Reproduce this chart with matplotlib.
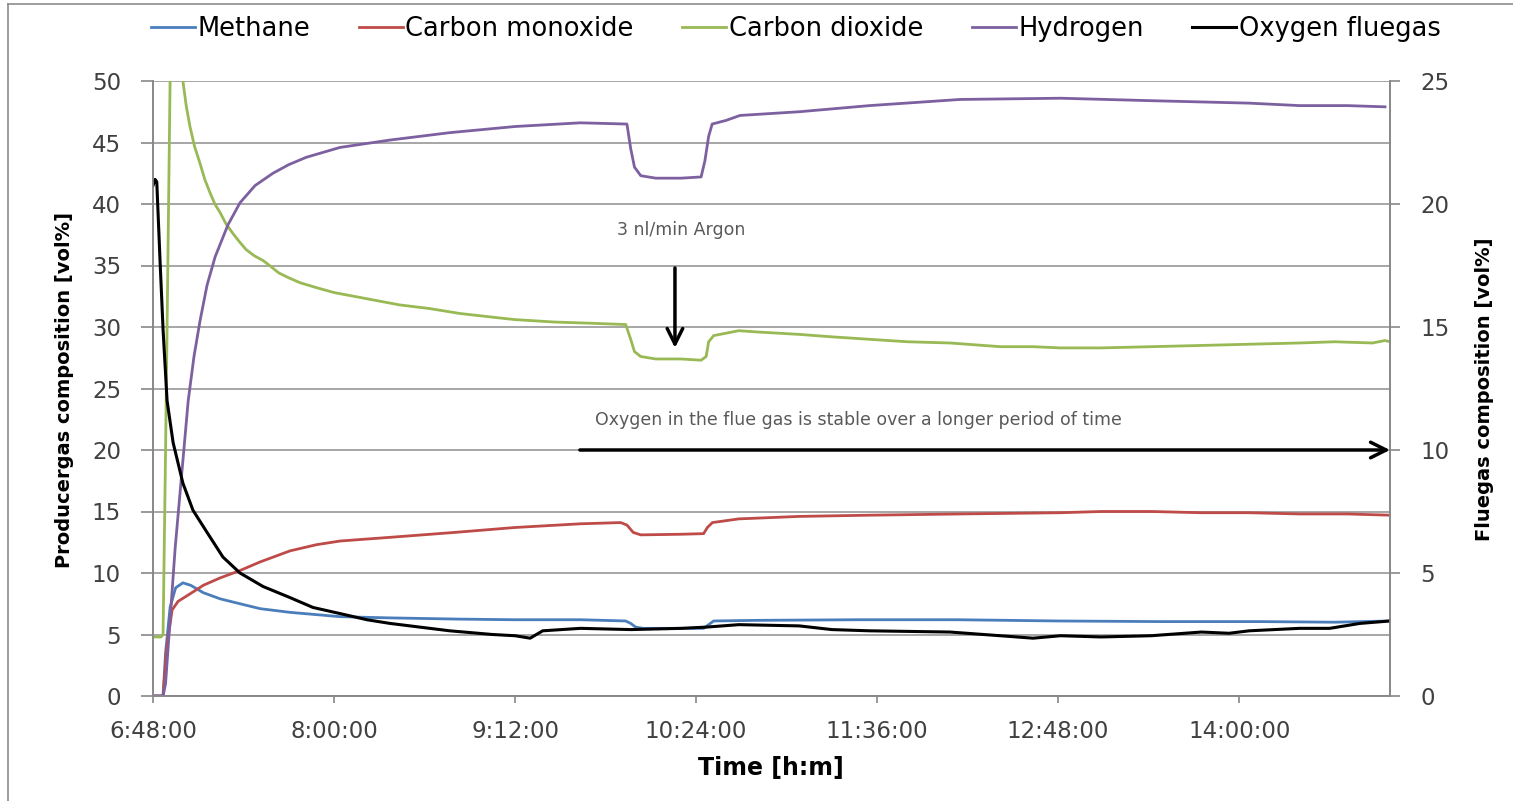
import matplotlib
matplotlib.use("Agg")
import matplotlib.pyplot as plt
from matplotlib.lines import Line2D

# time in minutes after 6:48:00
ch4_t = [0, 4.0, 5.0, 6.8, 9.0, 11.9, 15, 20, 26.7, 34.6, 42.6, 54.5, 74.4, 94.3, 122, 144, 170, 188,
         190, 192, 195, 210, 219, 221, 223, 240, 280, 320, 360, 400, 440, 470, 492]
ch4 = [0, 0, 3.5, 7.2, 8.8, 9.2, 9.0, 8.4, 7.9, 7.5, 7.1, 6.8, 6.45, 6.35, 6.25, 6.2, 6.2, 6.1,
       5.9, 5.6, 5.5, 5.5, 5.5, 5.8, 6.1, 6.15, 6.2, 6.2, 6.1, 6.05, 6.05, 6.0, 6.1]

co_t = [0, 4.0, 5.5, 7.6, 10, 14.7, 20, 26.7, 34.6, 42.6, 54.5, 65, 74.4, 94.3, 120, 144, 170, 186,
        188.5, 191, 194, 210, 219, 220.5, 222.5, 233, 257, 285, 321, 361, 377, 397, 417, 436, 456, 475, 492]
co = [0, 0, 4.0, 7.0, 7.7, 8.3, 9.0, 9.6, 10.2, 10.9, 11.8, 12.3, 12.6, 12.9, 13.3, 13.7, 14.0, 14.1,
      13.9, 13.3, 13.1, 13.15, 13.2, 13.7, 14.1, 14.4, 14.6, 14.7, 14.8, 14.9, 15.0, 15.0, 14.9, 14.9, 14.8, 14.8, 14.7]

co2_t = [0, 3.2, 4.0, 5.0, 6.8, 9.0, 11.9, 13.2, 14.7, 16.5, 18.7, 20.6, 22.7, 24.6, 26.7, 29, 31.8, 34.5, 37,
         40.2, 43.8, 47, 50, 54, 58.5, 65, 72, 85, 98,
         110, 122, 135, 144, 160, 175, 188, 190, 191.5, 194, 200, 210, 218, 220, 221, 223, 228, 233, 240,
         257, 270, 285, 300, 317, 337, 350, 361, 377, 397, 417, 436, 456, 470, 485, 490, 492]
co2 = [4.8, 4.8, 5.0, 20, 50, 60, 50, 48.0, 46.3, 44.7, 43.3, 42.0, 40.9, 40.0, 39.3, 38.4, 37.6, 36.9, 36.3,
       35.8, 35.4, 34.9, 34.4, 34.0, 33.6, 33.2, 32.8, 32.3, 31.8,
       31.5, 31.1, 30.8, 30.6, 30.4, 30.3, 30.2, 29.0, 28.0, 27.6, 27.4, 27.4, 27.3, 27.6, 28.8, 29.3, 29.5, 29.7, 29.6,
       29.4, 29.2, 29.0, 28.8, 28.7, 28.4, 28.4, 28.3, 28.3, 28.4, 28.5, 28.6, 28.7, 28.8, 28.7, 28.9, 28.8]

h2_t = [0, 4.0, 5.0, 8.8, 14, 16.3, 18.7, 21.5, 24.7, 29.8, 34.6, 40.6, 47.7, 54, 61, 74.4, 94.3, 118, 144, 170, 188.5,
        190, 191.5, 194, 200, 210, 218, 219.5, 221, 222.4, 228, 233.5, 257, 285, 321, 361, 397, 436, 456, 475, 490]
h2 = [0, 0, 1, 12, 24, 27.6, 30.5, 33.4, 35.7, 38.3, 40.1, 41.5, 42.5, 43.2, 43.8, 44.6, 45.2, 45.8, 46.3, 46.6, 46.5,
      44.5, 43.0, 42.3, 42.1, 42.1, 42.2, 43.5, 45.5, 46.5, 46.8, 47.2, 47.5, 48.0, 48.5, 48.6, 48.4, 48.2, 48.0, 48.0, 47.9]

o2_t = [0, 0.8, 1.5, 2.8, 4.0, 5.6, 8.0, 11.9, 15.9, 21.5, 27.8, 34.6, 43.8, 54.5, 63.6, 74.4, 85.1, 94.3,
        118, 135, 144, 150, 155, 170,
        190, 210, 220, 233, 257, 270, 285, 317, 337, 350, 361, 377, 397, 417, 428, 436, 456, 468, 480, 492]
o2 = [20.75, 21.0, 20.9, 17.7, 14.9, 12.0, 10.3, 8.65, 7.55, 6.65, 5.65, 5.0, 4.45, 4.0, 3.6, 3.35, 3.1, 2.95,
      2.65, 2.5, 2.45, 2.35, 2.65, 2.75,
      2.7, 2.75, 2.8, 2.9, 2.85, 2.7, 2.65, 2.6, 2.45, 2.35, 2.45, 2.4, 2.45, 2.6, 2.55, 2.65, 2.75, 2.75, 2.95, 3.05]

tick_pos = [0, 72, 144, 216, 288, 360, 432]
tick_labels = ["6:48:00", "8:00:00", "9:12:00", "10:24:00", "11:36:00", "12:48:00", "14:00:00"]

plt.rcParams['font.family'] = ['DejaVu Sans']

fig = plt.figure(figsize=(15.13, 8.01), dpi=100)
ax = fig.add_axes([153/1513, 1-696/801, 1237/1513, 615/801])
ax2 = ax.twinx()

grid_c = '#a6a6a6'
txt_c = '#404040'

for y in range(0, 55, 5):
    ax.axhline(y, color=grid_c, lw=1.4, zorder=0)

l1, = ax.plot(ch4_t, ch4, color='#4a7ebb', lw=2.0, label='Methane')
l2, = ax.plot(co_t, co, color='#be4b48', lw=2.0, label='Carbon monoxide')
l3, = ax.plot(co2_t, co2, color='#98b954', lw=2.0, label='Carbon dioxide')
l4, = ax.plot(h2_t, h2, color='#7d60a0', lw=2.0, label='Hydrogen')
l5, = ax2.plot(o2_t, o2, color='black', lw=2.2, label='Oxygen fluegas')

ax.set_xlim(0, 492)
ax.set_ylim(0, 50)
ax2.set_ylim(0, 25)
ax.set_yticks(range(0, 55, 5))
ax2.set_yticks(range(0, 30, 5))
ax.set_xticks(tick_pos)
ax.set_xticklabels(tick_labels)

for a in (ax, ax2):
    for s in a.spines.values():
        s.set_color('#888888')
        s.set_linewidth(1.2)
    a.spines['top'].set_visible(False)

ax.tick_params(axis='y', length=9, width=1.2, color='#888888', pad=14, labelsize=16.5, labelcolor=txt_c)
ax.tick_params(axis='x', length=5, width=1.2, color='#888888', pad=12, labelsize=16.5, labelcolor=txt_c)
ax2.tick_params(axis='y', length=7, width=1.2, color='#888888', pad=15, labelsize=16.5, labelcolor=txt_c)

fig.text(65/1513, 1-390/801, 'Producergas composition [vol%]', rotation=90, ha='center', va='center',
         fontsize=14, fontweight='bold')
fig.text(1484/1513, 1-389/801, 'Fluegas composition [vol%]', rotation=90, ha='center', va='center',
         fontsize=14, fontweight='bold')
fig.text(771/1513, 1-768/801, 'Time [h:m]', ha='center', va='center', fontsize=17, fontweight='bold')

# annotations
ax.text(210, 37.9, '3 nl/min Argon', ha='center', va='center', fontsize=12.5, color='#595959')
ax.annotate('', xy=(207.6, 28.3), xytext=(207.6, 34.8),
            arrowprops=dict(arrowstyle='->', lw=2.5, color='black', mutation_scale=28, shrinkA=0, shrinkB=0))
ax.text(175.8, 22.4, 'Oxygen in the flue gas is stable over a longer period of time', ha='left', va='center',
        fontsize=12.5, color='#595959')
ax.annotate('', xy=(492, 20), xytext=(169.8, 20), annotation_clip=False,
            arrowprops=dict(arrowstyle='->', lw=2.5, color='black', mutation_scale=28, shrinkA=0, shrinkB=0))

fig.legend(handles=[l1, l2, l3, l4, l5], loc='center', bbox_to_anchor=(0.526, 1-29/801), ncol=5,
           frameon=False, fontsize=18.5, handlelength=1.7, handletextpad=0.1, columnspacing=1.9)

# outer border
fig.add_artist(Line2D([8/1513, 1], [1-4/801, 1-4/801], transform=fig.transFigure, color='#8c8c8c', lw=1.2))
fig.add_artist(Line2D([8/1513, 8/1513], [0, 1-4/801], transform=fig.transFigure, color='#8c8c8c', lw=1.2))

fig.savefig('out.png', dpi=100)
